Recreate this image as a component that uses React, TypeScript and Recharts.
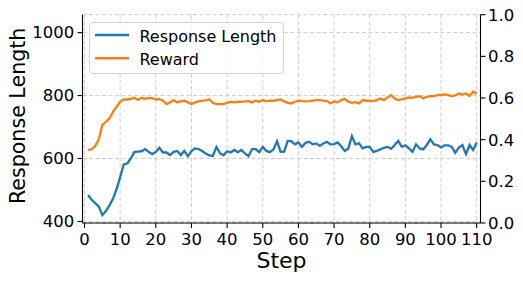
import { CartesianGrid, Legend, Line, LineChart, XAxis, YAxis } from "recharts";

const steps = Array.from({ length: 110 }, (_, i) => i + 1);

const responseLength = [
  484, 469, 458, 448, 420, 433, 451, 472, 503, 541,
  581, 584, 600, 621, 622, 623, 630, 621, 614, 621,
  634, 619, 619, 611, 621, 624, 611, 624, 607, 624,
  632, 630, 624, 616, 610, 608, 636, 617, 610, 623,
  619, 627, 620, 627, 616, 607, 630, 630, 620, 637,
  624, 620, 629, 655, 621, 622, 656, 655, 645, 651,
  637, 650, 653, 645, 648, 640, 648, 653, 645, 646,
  651, 639, 624, 632, 671, 645, 648, 632, 637, 637,
  621, 624, 629, 634, 637, 631, 643, 656, 637, 642,
  632, 621, 645, 632, 629, 643, 661, 645, 643, 635,
  642, 642, 637, 618, 635, 643, 614, 643, 627, 651,
];

const reward = [
  0.350, 0.354, 0.369, 0.401, 0.470, 0.486, 0.502, 0.534, 0.558, 0.582,
  0.593, 0.593, 0.596, 0.601, 0.591, 0.601, 0.596, 0.601, 0.599, 0.593,
  0.595, 0.587, 0.571, 0.579, 0.590, 0.579, 0.584, 0.587, 0.579, 0.571,
  0.579, 0.584, 0.587, 0.589, 0.593, 0.577, 0.571, 0.571, 0.571, 0.577,
  0.582, 0.579, 0.582, 0.582, 0.584, 0.585, 0.579, 0.587, 0.582, 0.590,
  0.584, 0.587, 0.587, 0.590, 0.593, 0.584, 0.577, 0.574, 0.582, 0.587,
  0.585, 0.584, 0.585, 0.587, 0.590, 0.590, 0.587, 0.585, 0.574, 0.584,
  0.580, 0.590, 0.595, 0.582, 0.577, 0.580, 0.574, 0.590, 0.587, 0.587,
  0.585, 0.590, 0.598, 0.590, 0.603, 0.614, 0.598, 0.590, 0.593, 0.598,
  0.603, 0.601, 0.606, 0.609, 0.598, 0.606, 0.609, 0.609, 0.614, 0.614,
  0.617, 0.614, 0.609, 0.612, 0.622, 0.617, 0.622, 0.610, 0.630, 0.622,
];

const xTicks = [0, 10, 20, 30, 40, 50, 60, 70, 80, 90, 100, 110];
const lengthTicks = [400, 600, 800, 1000];
const rewardTicks = [0, 0.2, 0.4, 0.6, 0.8, 1.0];

const data = steps.map((step, i) => ({
  step,
  length: responseLength[i],
  reward: reward[i],
}));

const FONT = "DejaVu Sans";
const tickStyle = { fill: "#000", fontSize: 16.5, fontFamily: FONT };

function StepLabel(props: any) {
  const vb = props.viewBox;
  return (
    <text x={vb.x + vb.width / 2} y={267.7} textAnchor="middle" fontFamily={FONT} fontSize={22} fill="#000">
      Step
    </text>
  );
}

function LengthLabel(props: any) {
  const vb = props.viewBox;
  const cx = 25;
  const cy = vb.y + vb.height / 2 - 3;
  return (
    <text x={cx} y={cy} transform={`rotate(-90 ${cx} ${cy})`} textAnchor="middle" fontFamily={FONT} fontSize={20.6} fill="#000">
      Response Length
    </text>
  );
}

function LegendBox(props: any) {
  const items = props.payload ?? [];
  return (
    <svg width={196} height={53} style={{ display: "block" }}>
      <rect x={0.5} y={0.5} width={194} height={51} rx={3.5} fill="rgba(255,255,255,0.8)" stroke="#d4d4d4" />
      {items.map((it: any, i: number) => (
        <g key={it.value}>
          <line x1={6} x2={40} y1={13 + i * 23.3} y2={13 + i * 23.3} stroke={it.color} strokeWidth={2.4} />
          <text x={50.4} y={19.7 + i * 23.3} fontFamily={FONT} fontSize={16} fill="#000">
            {it.value}
          </text>
        </g>
      ))}
    </svg>
  );
}

export default function App() {
  return (
    <div style={{ position: "absolute", left: 0, top: 0 }}>
      <LineChart width={523} height={282} data={data} margin={{ top: 14.7, right: 0, bottom: 0, left: 0 }}>
        <CartesianGrid yAxisId="left" stroke="#c8c8c8" strokeDasharray="4 2.5" strokeWidth={0.9} />
        <XAxis
          dataKey="step"
          type="number"
          domain={[-0.56, 111.07]}
          ticks={xTicks}
          allowDataOverflow
          height={59}
          tick={tickStyle}
          tickSize={5}
          tickMargin={4.8}
          axisLine={{ stroke: "#000", strokeWidth: 1.1 }}
          tickLine={{ stroke: "#000", strokeWidth: 1.1 }}
          label={StepLabel}
        />
        <XAxis
          xAxisId="top"
          dataKey="step"
          type="number"
          orientation="top"
          domain={[-0.56, 111.07]}
          height={0}
          tick={false}
          tickLine={false}
          axisLine={{ stroke: "#000", strokeWidth: 1.1 }}
        />
        <YAxis
          yAxisId="left"
          type="number"
          domain={[395, 1057]}
          ticks={lengthTicks}
          allowDataOverflow
          width={82.5}
          tick={tickStyle}
          tickSize={5}
          tickMargin={3.3}
          axisLine={{ stroke: "#000", strokeWidth: 1.1 }}
          tickLine={{ stroke: "#000", strokeWidth: 1.1 }}
          label={LengthLabel}
        />
        <YAxis
          yAxisId="right"
          orientation="right"
          type="number"
          domain={[0, 1]}
          ticks={rewardTicks}
          allowDataOverflow
          width={42.5}
          tick={tickStyle}
          tickSize={5}
          tickMargin={2.5}
          tickFormatter={(v: number) => v.toFixed(1)}
          axisLine={{ stroke: "#000", strokeWidth: 1.1 }}
          tickLine={{ stroke: "#000", strokeWidth: 1.1 }}
        />
        <Line
          yAxisId="left"
          dataKey="length"
          name="Response Length"
          type="linear"
          stroke="#1f77b4"
          strokeWidth={2.3}
          dot={false}
          isAnimationActive={false}
        />
        <Line
          yAxisId="right"
          dataKey="reward"
          name="Reward"
          type="linear"
          stroke="#ff7f0e"
          strokeWidth={2.3}
          dot={false}
          isAnimationActive={false}
        />
        <Legend
          layout="vertical"
          align="center"
          verticalAlign="middle"
          content={LegendBox}
          wrapperStyle={{ top: 22, left: 89, width: 196, height: 53 }}
        />
      </LineChart>
    </div>
  );
}
